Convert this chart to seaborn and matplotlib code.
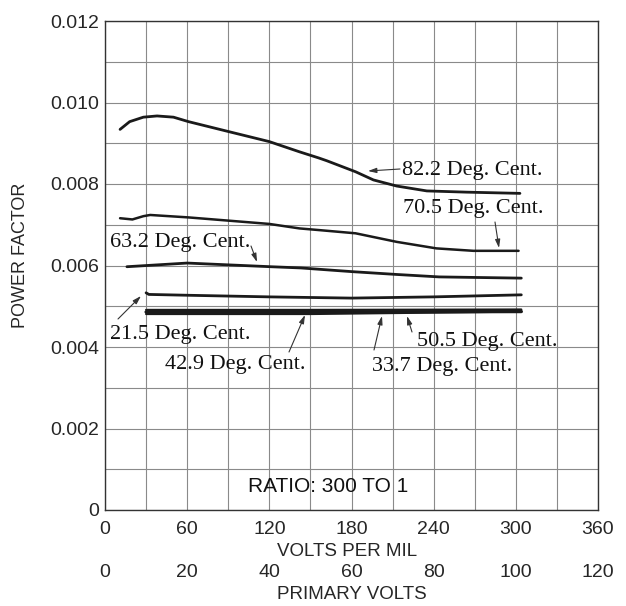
import numpy as np
import pandas as pd
import matplotlib
matplotlib.use("Agg")
import matplotlib.pyplot as plt
import seaborn as sns

# ---- data (volts per mil vs power factor) ----
v_822 = [11, 18, 28, 38, 50, 61, 91, 120, 142, 156, 162, 183, 196, 213, 235, 264, 303]
pf_822 = [0.00934, 0.00953, 0.00964, 0.00967, 0.00964, 0.00953, 0.00928, 0.00904, 0.00879,
          0.00864, 0.00857, 0.00830, 0.00810, 0.00795, 0.00783, 0.00780, 0.00777]

v_705 = [11, 20, 28, 33, 61, 120, 142, 156, 183, 213, 242, 269, 302]
pf_705 = [0.00716, 0.00713, 0.00721, 0.00724, 0.00718, 0.00702, 0.00691, 0.00687, 0.00679,
          0.00658, 0.00642, 0.00636, 0.00636]

v_632 = [16, 60, 121, 143, 180, 213, 244, 304]
pf_632 = [0.00597, 0.00606, 0.00597, 0.00594, 0.00585, 0.00578, 0.00572, 0.00569]

v_215 = [30, 32, 60, 120, 180, 240, 304]
pf_215 = [0.00533, 0.00529, 0.00527, 0.00523, 0.00520, 0.00523, 0.00528]

v_505 = [30, 150, 304]
pf_505 = [0.00491, 0.00491, 0.00492]

v_429 = [30, 150, 304]
pf_429 = [0.00486, 0.00486, 0.00487]

v_337 = [30, 150, 304]
pf_337 = [0.00481, 0.00481, 0.00487]

series = [
    ("82.2", v_822, pf_822, 2.0),
    ("70.5", v_705, pf_705, 1.8),
    ("63.2", v_632, pf_632, 2.0),
    ("21.5", v_215, pf_215, 2.0),
    ("50.5", v_505, pf_505, 1.6),
    ("42.9", v_429, pf_429, 2.4),
    ("33.7", v_337, pf_337, 1.6),
]

y_ticks = [0, 0.002, 0.004, 0.006, 0.008, 0.010, 0.012]
y_ticklabels = ["0", "0.002", "0.004", "0.006", "0.008", "0.010", "0.012"]
x_ticks = [0, 60, 120, 180, 240, 300, 360]
x2_ticks = [0, 20, 40, 60, 80, 100, 120]

W, H = 626, 606
L, R, B, T = 105, 598, 510, 21

def px2d(px, py):
    return ((px - L) / (R - L) * 360.0, (B - py) / (B - T) * 0.012)

# label text, text position, arrow tail, arrow head (figure pixels)
labels = [
    ("82.2 Deg. Cent.", (402, 170), (400, 169), (368, 171)),
    ("70.5 Deg. Cent.", (403, 208), (495, 222), (499, 248)),
    ("63.2 Deg. Cent.", (110, 243), (251, 246), (257, 262)),
    ("21.5 Deg. Cent.", (110, 335), (118, 319), (141, 296)),
    ("42.9 Deg. Cent.", (165, 364), (289, 352), (305, 315)),
    ("50.5 Deg. Cent.", (417, 342), (412, 332), (407, 316)),
    ("33.7 Deg. Cent.", (372, 366), (374, 350), (382, 316)),
]

sns.set_style("white")
plt.rcParams["font.family"] = ["Liberation Sans", "DejaVu Sans"]

fig = plt.figure(figsize=(W / 100, H / 100), dpi=100)
ax = fig.add_axes([L / W, 1 - B / H, (R - L) / W, (B - T) / H])

for name, xs, ys, lw in series:
    df = pd.DataFrame({"v": xs, "pf": ys})
    sns.lineplot(data=df, x="v", y="pf", ax=ax, color="#1a1a1a", lw=lw,
                 estimator=None, legend=False)

ax.set_xlim(0, 360)
ax.set_ylim(0, 0.012)
ax.set_xticks(x_ticks)
ax.set_xticks(np.arange(0, 361, 30), minor=True)
ax.set_yticks(y_ticks)
ax.set_yticks(np.arange(0, 0.01201, 0.001), minor=True)
ax.set_yticklabels(y_ticklabels)
ax.set_xticklabels([str(t) for t in x_ticks])
ax.grid(True, which="both", color="#8a8a8a", lw=0.8)
ax.tick_params(which="both", length=0)
ax.tick_params(axis="x", labelsize=14, pad=8)
ax.tick_params(axis="y", labelsize=14, pad=4)
for s in ax.spines.values():
    s.set_color("#333333")
    s.set_linewidth(1.0)

ax.set_ylabel("POWER FACTOR", fontsize=13)
ax.yaxis.set_label_coords((20 - L) / (R - L), (B - 255) / (B - T))
ax.yaxis.label.set_verticalalignment("center")
ax.set_xlabel("VOLTS PER MIL", fontsize=13.5)
ax.xaxis.set_label_coords((347 - L) / (R - L), (B - 551) / (B - T))
ax.xaxis.label.set_verticalalignment("center")

sec = ax.secondary_xaxis(-0.10, functions=(lambda v: v / 3.0, lambda p: p * 3.0))
sec.set_xticks(x2_ticks)
sec.set_xticklabels([str(t) for t in x2_ticks])
sec.tick_params(length=0, labelsize=14, pad=4)
sec.spines["bottom"].set_visible(False)
sec.set_xlabel("PRIMARY VOLTS", fontsize=13.5, labelpad=3)

serif = ["Liberation Serif", "DejaVu Serif"]
for txt, tpos, tail, head in labels:
    ax.text(*px2d(*tpos), txt, fontsize=16, family=serif, ha="left", va="center",
            color="#111111")
    ax.annotate("", xy=px2d(*head), xytext=px2d(*tail),
                arrowprops=dict(arrowstyle="-|>,head_length=0.5,head_width=0.15",
                                color="#333333", lw=0.8, shrinkA=0, shrinkB=0))

ax.text(*px2d(248, 487), "RATIO: 300 TO 1", fontsize=15, ha="left", va="center",
        color="#111111")

fig.savefig("out.png", dpi=100)
